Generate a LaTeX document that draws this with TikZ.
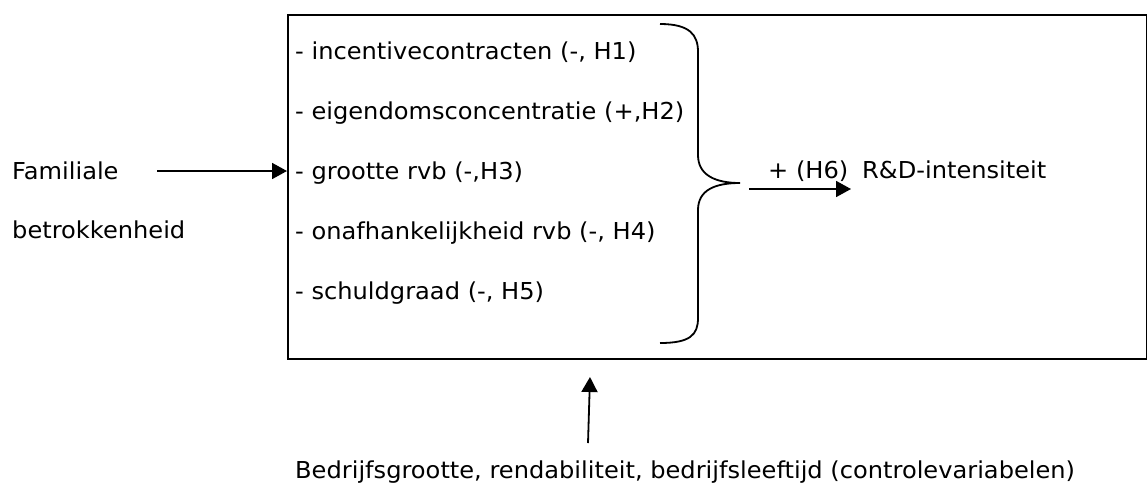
\documentclass[tikz,border=0pt]{standalone}
\usepackage{fontspec}
\setmainfont[FakeStretch=1.035]{DejaVu Sans}
\usetikzlibrary{arrows.meta}
\begin{document}
\begin{tikzpicture}[x=1pt,y=-1pt,
  lbl/.style={anchor=base west,inner sep=0pt,font=\fontsize{23.3}{28}\selectfont},
  frame/.style={draw,line width=2pt},
  conn/.style={line width=1.8pt,-{Triangle[length=15pt,width=16pt]}},
  brace/.style={line width=1.8pt}]
\useasboundingbox (0,0) rectangle (1147,485);
\node[frame,minimum width=859pt,minimum height=344pt,anchor=north west,inner sep=0pt] (box) at (287,14) {};
\node[lbl] (fam) at (12,179) {Familiale};
\node[lbl] (bet) at (12,238) {betrokkenheid};
\node[lbl] (i1) at (295,59) {- incentivecontracten (-, H1)};
\node[lbl] (i2) at (295,119) {- eigendomsconcentratie (+,H2)};
\node[lbl] (i3) at (295,179) {- grootte rvb (-,H3)};
\node[lbl] (i4) at (295,239) {- onafhankelijkheid rvb (-, H4)};
\node[lbl] (i5) at (295,299) {- schuldgraad (-, H5)};
\node[lbl] (h6) at (768,178) {+ (H6)};
\node[lbl] (rd) at (862,178) {R\&D-intensiteit};
\node[lbl] (ctrl) at (295,478) {Bedrijfsgrootte, rendabiliteit, bedrijfsleeftijd (controlevariabelen)};
\coordinate (fstart) at (157,171);
\coordinate (fend) at (287,171);
\coordinate (btip) at (740,183);
\coordinate (rstart) at (749,189);
\coordinate (rend) at (851,189);
\coordinate (cstart) at (588,443);
\coordinate (cend) at (590,377);
\draw[brace] (660,24) .. controls (690,24) and (698,35) .. (698,52) -- (698,155)
  .. controls (698,175) and (715,183) .. (btip)
  .. controls (715,183) and (698,190) .. (698,210) -- (698,318)
  .. controls (698,335) and (690,343) .. (660,343);
\draw[conn] (fstart) -- (fend);
\draw[conn] (rstart) -- (rend);
\draw[conn] (cstart) -- (cend);
\end{tikzpicture}
\end{document}
